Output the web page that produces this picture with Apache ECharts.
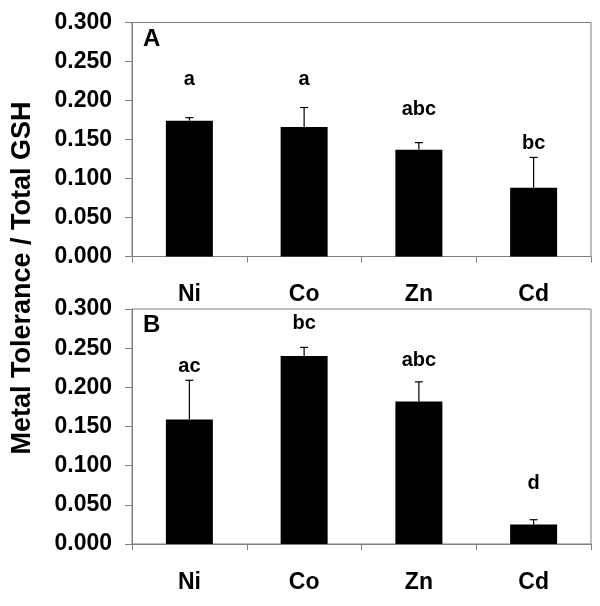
<!DOCTYPE html>
<html>
<head>
<meta charset="utf-8">
<script src="https://cdn.jsdelivr.net/npm/echarts@6/dist/echarts.min.js"></script>
<style>html,body{margin:0;padding:0;background:#fff;}#c{width:600px;height:606px;}</style>
</head>
<body>
<div id="c"></div>
<script>
var categories = ['Ni', 'Co', 'Zn', 'Cd'];
var yTicks = [0, 0.05, 0.1, 0.15, 0.2, 0.25, 0.3];
var valuesA = [0.174, 0.166, 0.137, 0.088];
var errTopA = [0.178, 0.191, 0.146, 0.127];
var lettersA = ['a', 'a', 'abc', 'bc'];
var letterPosA = [0.2265, 0.2265, 0.189, 0.1445];
var valuesB = [0.159, 0.240, 0.182, 0.025];
var errTopB = [0.209, 0.251, 0.207, 0.031];
var lettersB = ['ac', 'bc', 'abc', 'd'];
var letterPosB = [0.227, 0.282, 0.234, 0.0775];

var FONT = '"Liberation Sans", Arial, sans-serif';
var GRAY = '#7f7f7f';

function xAxisCfg(gi) {
  return {
    type: 'category', gridIndex: gi, data: categories,
    axisLine: {lineStyle: {color: GRAY, width: 1}},
    axisTick: {show: true, length: 6, alignWithLabel: false, lineStyle: {color: GRAY}},
    axisLabel: {color: '#000', fontSize: 23, fontWeight: 'bold', fontFamily: FONT, margin: 27},
    splitLine: {show: false}
  };
}
function yAxisCfg(gi) {
  return {
    type: 'value', gridIndex: gi, min: 0, max: 0.3, interval: 0.05,
    axisLine: {show: true, lineStyle: {color: GRAY, width: 1}},
    axisTick: {show: true, length: 7, lineStyle: {color: GRAY}},
    axisLabel: {color: '#000', fontSize: 23, fontWeight: 'bold', fontFamily: FONT, margin: 20,
      formatter: function (v) { return v.toFixed(3); }},
    splitLine: {show: false}
  };
}
function errSeries(gi, tops, vals) {
  return {
    type: 'custom', xAxisIndex: gi, yAxisIndex: gi, z: 1,
    data: vals.map(function (v, i) { return [i, v, tops[i]]; }),
    renderItem: function (params, api) {
      var b = api.coord([api.value(0), api.value(1)]);
      var t = api.coord([api.value(0), api.value(2)]);
      var hw = 4;
      return {type: 'group', children: [
        {type: 'line', shape: {x1: b[0], y1: b[1], x2: t[0], y2: t[1]}, style: {stroke: '#000', lineWidth: 1.2}},
        {type: 'line', shape: {x1: t[0] - hw, y1: t[1], x2: t[0] + hw, y2: t[1]}, style: {stroke: '#000', lineWidth: 1.2}}
      ]};
    }
  };
}
function letterSeries(gi, letters, pos) {
  return {
    type: 'custom', xAxisIndex: gi, yAxisIndex: gi, z: 5,
    data: pos.map(function (p, i) { return [i, p]; }),
    renderItem: function (params, api) {
      var c = api.coord([api.value(0), api.value(1)]);
      var txt = (gi === 0 ? lettersA : lettersB)[params.dataIndex];
      return {type: 'text', x: c[0], y: c[1], style: {text: txt, fill: '#000', font: 'bold 20px ' + FONT, align: 'center', verticalAlign: 'middle'}};
    }
  };
}

var chart = echarts.init(document.getElementById('c'), null, {renderer: 'canvas'});
chart.setOption({
  animation: false,
  backgroundColor: '#fff',
  grid: [
    {left: 132, right: 9, top: 22.5, height: 234, show: true, borderColor: GRAY, borderWidth: 1, containLabel: false},
    {left: 132, right: 9, top: 309, height: 235, show: true, borderColor: GRAY, borderWidth: 1, containLabel: false}
  ],
  xAxis: [xAxisCfg(0), xAxisCfg(1)],
  yAxis: [yAxisCfg(0), yAxisCfg(1)],
  graphic: [
    {type: 'text', left: 143, top: 27, style: {text: 'A', fill: '#000', font: 'bold 24px ' + FONT}},
    {type: 'text', left: 143, top: 313, style: {text: 'B', fill: '#000', font: 'bold 24px ' + FONT}},
    {type: 'text', x: 23, y: 278, rotation: Math.PI / 2,
      style: {text: 'Metal Tolerance / Total GSH', fill: '#000', font: 'bold 27px ' + FONT, align: 'center', verticalAlign: 'middle'}}
  ],
  series: [
    {type: 'bar', xAxisIndex: 0, yAxisIndex: 0, data: valuesA, barWidth: 47, itemStyle: {color: '#000'}, z: 2},
    errSeries(0, errTopA, valuesA),
    letterSeries(0, lettersA, letterPosA),
    {type: 'bar', xAxisIndex: 1, yAxisIndex: 1, data: valuesB, barWidth: 47, itemStyle: {color: '#000'}, z: 2},
    errSeries(1, errTopB, valuesB),
    letterSeries(1, lettersB, letterPosB)
  ]
});
</script>
</body>
</html>
